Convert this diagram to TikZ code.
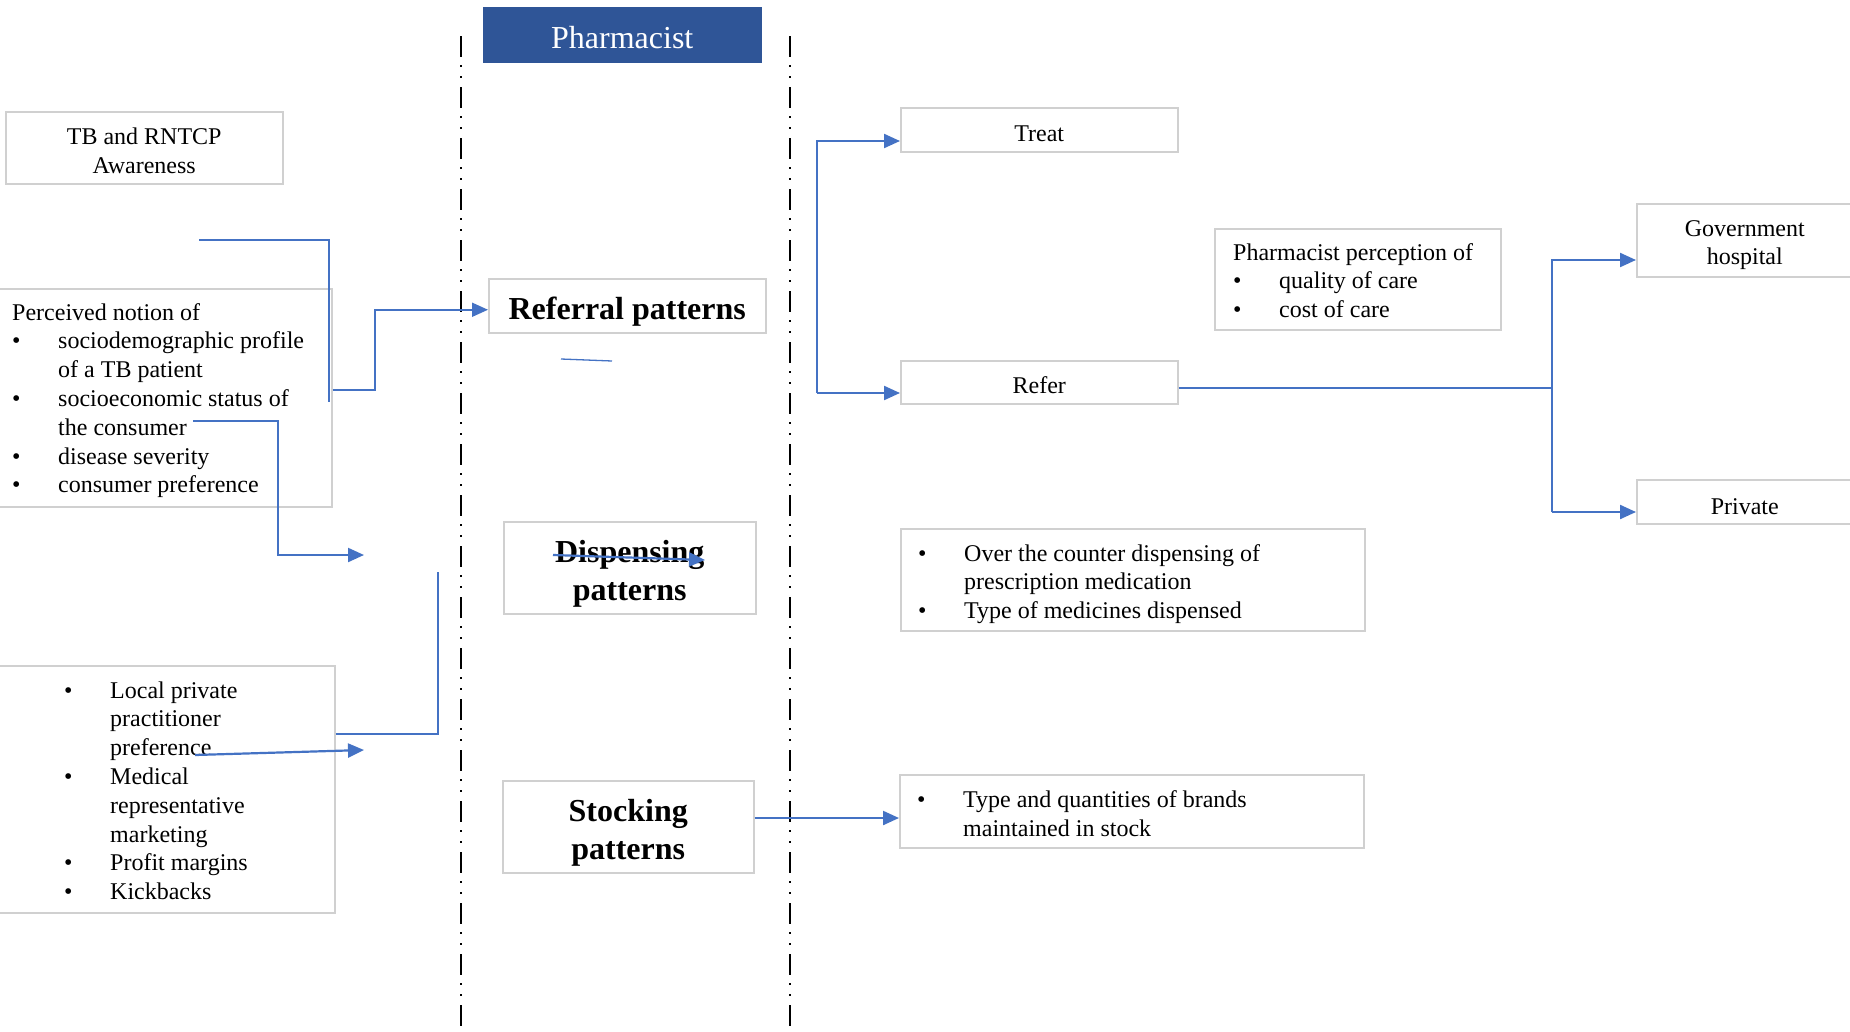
\documentclass[tikz,border=0pt]{standalone}
\usepackage{fontspec}
\setmainfont{Liberation Serif}
\usetikzlibrary{arrows.meta}
\definecolor{bord}{RGB}{208,208,208}
\definecolor{lnblue}{RGB}{68,114,196}
\definecolor{phblue}{RGB}{47,85,151}
\newcommand{\bul}{\makebox[46pt][l]{•}}
\newcommand{\ind}{\hspace*{46pt}}
\newcommand{\tp}[1]{\rule{0pt}{#1pt}}
\newcommand{\mylines}[1]{\vtop{\baselineskip=28.8pt\lineskiplimit=-20pt\halign{##\hfil\cr#1\crcr}}}
\begin{document}
\begin{tikzpicture}[x=1pt,y=-1pt,
  box/.style={draw=bord, line width=1.5pt, inner sep=0pt, anchor=north west, align=center, font=\fontsize{24}{28.8}\selectfont},
  titlebox/.style={box, font=\fontsize{32}{38}\selectfont\bfseries},
  lst/.style={inner sep=0pt, anchor=base west, font=\fontsize{24}{28.8}\selectfont},
  thinln/.style={draw=lnblue, line width=1.3pt},
  arr/.style={draw=lnblue, line width=2.2pt, -{Triangle[length=16pt,width=14pt]}},
  lane/.style={draw=black, line width=1.3pt, dash pattern=on 21pt off 8pt on 2pt off 9pt on 2pt off 9pt}
]
\useasboundingbox (0,0) rectangle (1850,1031);
\fill[white] (0,0) rectangle (1850,1031);

% swim lane lines
\coordinate (l1t) at (461,36); \coordinate (l1b) at (461,1031);
\coordinate (l2t) at (790,36); \coordinate (l2b) at (790,1031);
\draw[lane] (l1t) -- (l1b);
\draw[lane] (l2t) -- (l2b);

% header
\node[box, draw=phblue, fill=phblue, text=white, minimum width=277, minimum height=54, font=\fontsize{32}{38}\selectfont] (pharm) at (483,7) {\tp{27}Pharmacist};

% left column
\node[box, minimum width=277, minimum height=72] (tb) at (5,111) {\tp{22.4}TB and RNTCP\\Awareness};
\node[box, minimum width=336, minimum height=218] (perc) at (-5,288) {};
\node[lst] (perct) at (12,320) {\mylines{Perceived notion of\cr
\bul sociodemographic profile\cr
\ind of a TB patient\cr
\bul socioeconomic status of\cr
\ind the consumer\cr
\bul disease severity\cr
\bul consumer preference}};
\node[box, minimum width=339, minimum height=247] (local) at (-5,665) {};
\node[lst] (localt) at (64,698) {\mylines{\bul Local private\cr
\ind practitioner\cr
\ind preference\cr
\bul Medical\cr
\ind representative\cr
\ind marketing\cr
\bul Profit margins\cr
\bul Kickbacks}};

% middle column
\node[titlebox, minimum width=277, minimum height=54] (ref) at (488,278) {\tp{34}Referral patterns};
\node[titlebox, minimum width=252, minimum height=92] (disp) at (503,521) {\tp{35}Dispensing\\patterns};
\node[titlebox, minimum width=251, minimum height=92] (stock) at (502,780) {\tp{34}Stocking\\patterns};

% right column
\node[box, minimum width=277, minimum height=44] (treat) at (900,107) {\tp{23}Treat};
\node[box, minimum width=277, minimum height=43] (refer) at (900,360) {\tp{22.5}Refer};
\node[box, minimum width=286, minimum height=101] (percp) at (1214,228) {};
\node[lst] (percpt) at (1233,260) {\mylines{Pharmacist perception of\cr
\bul quality of care\cr
\bul cost of care}};
\node[box, minimum width=216, minimum height=73] (gov) at (1636,203) {\tp{25.7}Government\\hospital};
\node[box, minimum width=216, minimum height=44] (priv) at (1636,479) {\tp{25.4}Private};
\node[box, minimum width=464, minimum height=102] (otc) at (900,528) {};
\node[lst] (otct) at (918,561) {\mylines{\bul Over the counter dispensing of\cr
\ind prescription medication\cr
\bul Type of medicines dispensed}};
\node[box, minimum width=464, minimum height=73] (typ) at (899,774) {};
\node[lst] (typt) at (917,807.5) {\mylines{\bul Type and quantities of brands\cr
\ind maintained in stock}};

% connectors, left
\coordinate (s1) at (199,240); \coordinate (s2) at (329,240); \coordinate (s3) at (329,402);
\draw[thinln] (s1) -- (s2) -- (s3);
\coordinate (pk) at (375,390);
\draw[arr, line width=1.8pt] (pk -| perc.east) -- (pk) |- ([yshift=-4pt]ref.west);
\coordinate (u1) at (561,359); \coordinate (u2) at (612,361);
\draw[thinln] (u1) -- (u2);
\coordinate (c1) at (193,421); \coordinate (c2) at (278,421); \coordinate (c3) at (364,555);
\draw[arr] (c1) -- (c2) |- (c3);
\coordinate (d1) at (553,555); \coordinate (d2) at (705,560);
\draw[arr] (d1) -- (d2);
\coordinate (q1) at (438,734); \coordinate (q2) at (438,572);
\draw[thinln] (q1 -| local.east) -- (q1) -- (q2);
\coordinate (g1) at (195,755); \coordinate (g2) at (364,750);
\draw[arr] (g1) -- (g2);

% connectors, right
\coordinate (h) at (800,818);
\draw[arr] (h -| stock.east) -- (h -| typ.west);
\coordinate (tr) at (817,141); \coordinate (rb) at (817,393);
\draw[arr] (rb) -- (tr) -- (tr -| treat.west);
\draw[arr] (rb) -- (rb -| refer.west);
\coordinate (j) at (1552,388);
\draw[thinln] (j -| refer.east) -- (j);
\coordinate (gu) at (1552,260); \coordinate (gd) at (1552,512);
\draw[arr] (gd) -- (gu) -- (gu -| gov.west);
\draw[arr] (gd) -- (gd -| priv.west);
\end{tikzpicture}
\end{document}
